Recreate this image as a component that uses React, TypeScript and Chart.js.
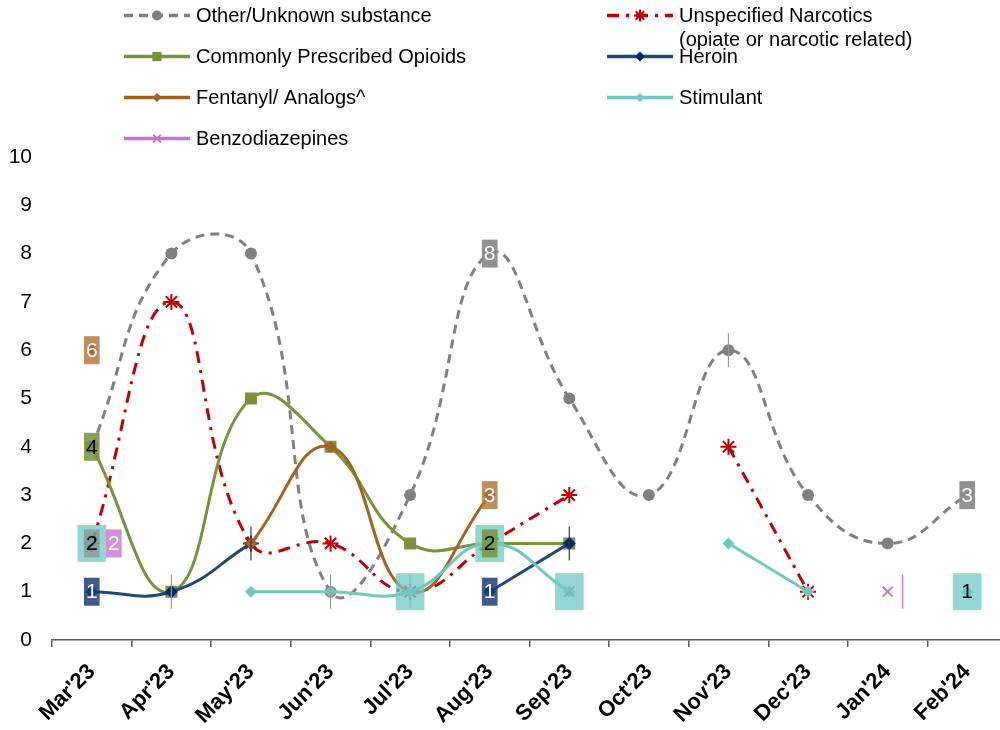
import React, { useEffect, useRef } from "react";
import { Chart, registerables } from "chart.js";
import { drawPoint } from "chart.js/helpers";

Chart.register(...registerables);

const FONT = "'Liberation Sans', Arial, sans-serif";

// ---------- data ----------
const categories = ["Mar'23", "Apr'23", "May'23", "Jun'23", "Jul'23", "Aug'23", "Sep'23", "Oct'23", "Nov'23", "Dec'23", "Jan'24", "Feb'24"];
const yMin = 0;
const yMax = 10;
const yStep = 1;

const otherUnknown = [4, 8, 8, 1, 3, 8, 5, 3, 6, 3, 2, 3];
const unspecifiedNarcotics = [2, 7, 2, 2, 1, 2, 3, null, 4, 1, null, null];
const commonlyPrescribed = [4, 1, 5, 4, 2, 2, 2, null, null, null, null, null];
const heroin = [1, 1, 2, null, null, 1, 2, null, null, null, null, null];
const fentanyl = [6, null, 2, 4, 1, 3, null, null, null, null, null, null];
const stimulant = [2, null, 1, 1, 1, 2, 1, null, 2, 1, null, 1];
const benzodiazepines = [2, null, null, null, null, null, 1, null, null, null, 1, null];

const seriesKeys = ["other", "narcotics", "commonly", "heroin", "fentanyl", "stimulant", "benzo"];
const seriesNames: Record<string, string> = {
  other: "Other/Unknown substance",
  narcotics: "Unspecified Narcotics\n(opiate or narcotic related)",
  commonly: "Commonly Prescribed Opioids",
  heroin: "Heroin",
  fentanyl: "Fentanyl/ Analogs^",
  stimulant: "Stimulant",
  benzo: "Benzodiazepines",
};
const seriesData: Record<string, (number | null)[]> = {
  other: otherUnknown,
  narcotics: unspecifiedNarcotics,
  commonly: commonlyPrescribed,
  heroin: heroin,
  fentanyl: fentanyl,
  stimulant: stimulant,
  benzo: benzodiazepines,
};

// points that carry a value label (series -> category indices)
const labelledPoints: Record<string, number[]> = {
  stimulant: [0, 5, 11],
  other: [5, 11],
  narcotics: [0],
  commonly: [0, 5],
  heroin: [0, 5],
  fentanyl: [0, 5],
  benzo: [0],
};
// label boxes shown without text
const blankLabelPoints: Record<string, number[]> = {
  stimulant: [4, 6],
};
// small vertical whiskers [series, category index]
const whiskerPoints: [string, number][] = [
  ["commonly", 1],
  ["heroin", 2],
  ["other", 3],
  ["narcotics", 4],
  ["heroin", 6],
  ["other", 8],
  ["benzo", 10],
];

// ---------- styles ----------
type St = {
  color: string;
  pointColor: string;
  dash: number[];
  width: number;
  pointStyle: string;
  radius: number;
  legendRadius: number;
  pointBorder: number;
  labelFill: string;
  labelText: string;
  wide?: boolean;
  labelDx?: number;
};
const STYLE: Record<string, St> = {
  other: { color: "#808080", pointColor: "#808080", dash: [9, 6], width: 3, pointStyle: "circle", radius: 6, legendRadius: 5, pointBorder: 0, labelFill: "rgba(140,140,140,0.95)", labelText: "#ffffff" },
  narcotics: { color: "#C00000", pointColor: "#C00000", dash: [12, 7, 3, 7], width: 3, pointStyle: "star", radius: 8, legendRadius: 6, pointBorder: 2, labelFill: "rgba(128,128,128,0.55)", labelText: "#000000" },
  commonly: { color: "#77933C", pointColor: "#77933C", dash: [], width: 3, pointStyle: "rect", radius: 8.5, legendRadius: 6.5, pointBorder: 0, labelFill: "rgba(119,147,60,0.85)", labelText: "#000000" },
  heroin: { color: "#1F497D", pointColor: "#0B2660", dash: [], width: 3, pointStyle: "rectRot", radius: 6.5, legendRadius: 5, pointBorder: 0, labelFill: "rgba(31,61,120,0.85)", labelText: "#ffffff" },
  fentanyl: { color: "#A6611F", pointColor: "#A6611F", dash: [], width: 3, pointStyle: "rectRot", radius: 6, legendRadius: 4.5, pointBorder: 0, labelFill: "rgba(176,112,52,0.8)", labelText: "#ffffff" },
  stimulant: { color: "#70C8C2", pointColor: "#70C8C2", dash: [], width: 3, pointStyle: "rectRot", radius: 6, legendRadius: 4.5, pointBorder: 0, labelFill: "rgba(112,200,194,0.75)", labelText: "#000000", wide: true },
  benzo: { color: "#C874D0", pointColor: "#C874D0", dash: [], width: 3, pointStyle: "crossRot", radius: 7, legendRadius: 5.5, pointBorder: 2, labelFill: "rgba(200,126,210,0.85)", labelText: "#ffffff", labelDx: 22 },
};
const whiskerColors = ["#8DB050", "#1F3D78", "#9A9A9A", "#9A9A9A", "#1F3D78", "#9A9A9A", "#C874D0"];
const whiskerDx = [0, 0, 0, 0, 0, 0, 15];

const legendSlots: Record<string, [number, number]> = {
  other: [0, 0],
  narcotics: [1, 0],
  commonly: [0, 1],
  heroin: [1, 1],
  fentanyl: [0, 2],
  stimulant: [1, 2],
  benzo: [0, 3],
};

const legendPlugin = {
  id: "customLegend",
  afterDraw(chart: any) {
    const ctx = chart.ctx;
    const colX = [124, 607];
    const sampleW = 66;
    ctx.save();
    ctx.font = `20px ${FONT}`;
    ctx.textBaseline = "middle";
    ctx.textAlign = "left";
    seriesKeys.forEach((k) => {
      const st = STYLE[k];
      const [c, r] = legendSlots[k];
      const x0 = colX[c];
      const y = 15.5 + r * 41;
      ctx.save();
      ctx.strokeStyle = st.color;
      ctx.lineWidth = 3.5;
      ctx.setLineDash(st.dash);
      ctx.beginPath();
      ctx.moveTo(x0, y);
      ctx.lineTo(x0 + sampleW, y);
      ctx.stroke();
      ctx.setLineDash([]);
      ctx.fillStyle = st.pointColor;
      ctx.strokeStyle = st.pointColor;
      ctx.lineWidth = st.pointBorder || 1;
      drawPoint(ctx, { pointStyle: st.pointStyle, radius: st.legendRadius, rotation: 0, borderWidth: st.pointBorder }, x0 + sampleW / 2, y);
      ctx.restore();
      ctx.fillStyle = "#000000";
      const lines = seriesNames[k].split("\n");
      lines.forEach((ln, i) => ctx.fillText(ln, x0 + sampleW + 6, y + 1 + i * 24));
    });
    ctx.restore();
  },
};

const labelPlugin = {
  id: "valueLabels",
  afterDatasetsDraw(chart: any) {
    const ctx = chart.ctx;
    ctx.save();
    // whiskers
    whiskerPoints.forEach(([k, idx], n) => {
      const di = seriesKeys.indexOf(k);
      const pt = chart.getDatasetMeta(di).data[idx];
      if (!pt) return;
      ctx.strokeStyle = whiskerColors[n];
      ctx.lineWidth = 1.2;
      ctx.beginPath();
      ctx.moveTo(pt.x + whiskerDx[n], pt.y - 17);
      ctx.lineTo(pt.x + whiskerDx[n], pt.y + 17);
      ctx.stroke();
    });
    ctx.font = `21px ${FONT}`;
    ctx.textAlign = "center";
    ctx.textBaseline = "middle";
    const order = [...seriesKeys].sort((a, b) => (STYLE[b].wide ? 1 : 0) - (STYLE[a].wide ? 1 : 0));
    const drawBox = (k: string, idx: number, withText: boolean) => {
      const st = STYLE[k];
      const di = seriesKeys.indexOf(k);
      const v = seriesData[k][idx];
      const pt = chart.getDatasetMeta(di).data[idx];
      if (v == null || !pt) return;
      const txt = String(v);
      const tw = ctx.measureText(txt).width;
      const w = st.wide ? tw + 17 : tw + 4;
      const h = st.wide ? 37 : 28;
      const x = pt.x + (st.labelDx || 0);
      const y = pt.y;
      ctx.fillStyle = st.labelFill;
      ctx.fillRect(x - w / 2, y - h / 2, w, h);
      if (withText) {
        ctx.fillStyle = st.labelText;
        ctx.fillText(txt, x, y + 1);
      }
    };
    order.forEach((k) => {
      (blankLabelPoints[k] || []).forEach((idx) => drawBox(k, idx, false));
      (labelledPoints[k] || []).forEach((idx) => drawBox(k, idx, true));
    });
    ctx.restore();
  },
};

export default function App() {
  const ref = useRef<HTMLCanvasElement | null>(null);
  useEffect(() => {
    if (!ref.current) return;
    Chart.defaults.font.family = FONT;
    const datasets = seriesKeys.map((k, i) => {
      const st = STYLE[k];
      return {
        label: seriesNames[k],
        data: seriesData[k],
        borderColor: st.color,
        backgroundColor: st.pointColor,
        borderWidth: st.width,
        borderDash: st.dash,
        tension: 0.45,
        fill: false,
        spanGaps: false,
        pointStyle: st.pointStyle,
        pointRadius: st.radius,
        pointBackgroundColor: st.pointColor,
        pointBorderColor: st.pointColor,
        pointBorderWidth: st.pointBorder,
        order: -i,
      };
    });
    const chart = new Chart(ref.current, {
      type: "line",
      data: { labels: categories, datasets: datasets as any },
      plugins: [legendPlugin, labelPlugin],
      options: {
        responsive: false,
        animation: false,
        devicePixelRatio: 1,
        layout: { padding: { left: 0, top: 157, right: 3, bottom: 0 } },
        plugins: { legend: { display: false }, tooltip: { enabled: false } },
        scales: {
          x: {
            type: "category",
            offset: true,
            grid: { display: true, offset: true, drawOnChartArea: false, drawTicks: true, tickLength: 7, color: "#595959", lineWidth: 1.5 },
            border: { display: true, color: "#595959", width: 1.5 },
            ticks: { color: "#000000", font: { family: FONT, size: 22, weight: "bold" }, minRotation: 45, maxRotation: 45, autoSkip: false, padding: 12 },
            afterFit: (s: any) => { s.height = 90; },
          },
          y: {
            min: yMin,
            max: yMax,
            grid: { display: false },
            border: { display: false },
            ticks: { stepSize: yStep, color: "#000000", font: { family: FONT, size: 21 }, padding: 12 },
            afterFit: (s: any) => { s.width = 52; },
          },
        },
      } as any,
    });
    return () => chart.destroy();
  }, []);
  return (
    <div style={{ position: "fixed", left: 0, top: 0, width: 1000, height: 730, overflow: "hidden", background: "#ffffff" }}>
      <canvas ref={ref} width={1017} height={730} style={{ width: 1017, height: 730, display: "block" }} />
    </div>
  );
}
